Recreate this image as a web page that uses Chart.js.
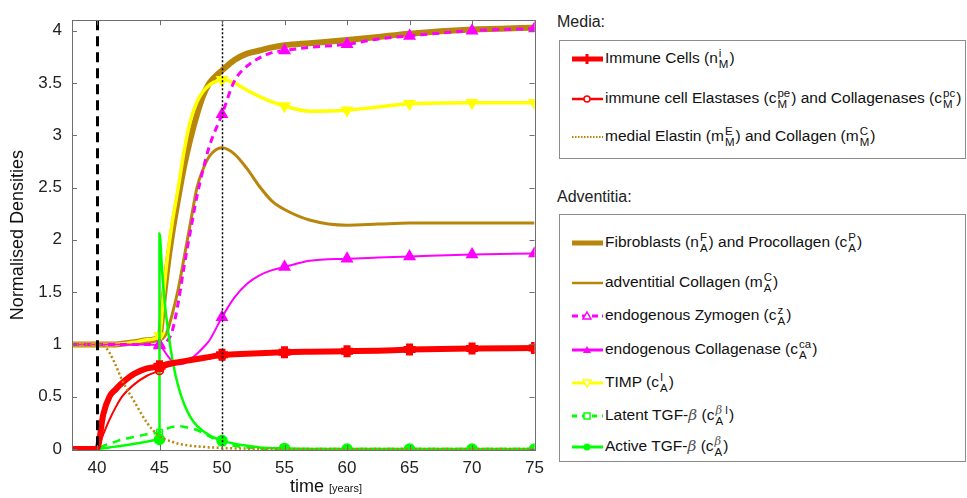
<!DOCTYPE html>
<html>
<head>
<meta charset="utf-8">
<script src="https://cdn.jsdelivr.net/npm/chart.js@4.4.1/dist/chart.umd.min.js"></script>
<style>
  body { margin: 0; background: #fff; font-family: "Liberation Sans", Arial, sans-serif; }
  #wrap { position: relative; width: 967px; height: 498px; overflow: hidden; background: #fff; }
  #chart { position: absolute; left: 0; top: 0; }
  .xtitle { position: absolute; left: 290px; top: 476px; font-size: 18px; color: #111; white-space: nowrap; }
  .xtitle small { font-size: 11px; margin-left: 5px; }
  .grp { position: absolute; left: 557px; font-size: 16px; color: #222; }
  .box { position: absolute; left: 559px; width: 407px; border: 1.5px solid #8c8c8c; box-sizing: border-box; background: #fff; }
  .row { position: absolute; left: 12px; height: 24px; display: flex; align-items: center; white-space: nowrap; font-size: 15.5px; color: #111; }
  .row svg { margin-right: 2px; flex: none; }
  .ss { display: inline-flex; flex-direction: column; font-size: 11.5px; line-height: 11px; vertical-align: 6px; margin: 0 1px; }
  .b { font-family: "DejaVu Serif", serif; font-style: italic; color: #555; }
</style>
</head>
<body>
<div id="wrap">
  <canvas id="chart" width="552" height="498"></canvas>
  <div class="xtitle">time<small>[years]</small></div>
  <div class="grp" style="top:13px">Media:</div>
  <div class="box" id="mediaBox" style="top:40px;height:119px"></div>
  <div class="grp" style="top:188px">Adventitia:</div>
  <div class="box" id="advBox" style="top:214px;height:248px"></div>
</div>
<script>
// time axis
const xTicks = [40, 45, 50, 55, 60, 65, 70, 75];
const yTicks = [0, 0.5, 1, 1.5, 2, 2.5, 3, 3.5, 4];
const markerYears = [45, 50, 55, 60, 65, 70, 75];
const eventYears = [40, 50];

const years = [38, 40, 40.5, 41, 41.5, 42, 43, 44, 45, 45.3, 45.6, 46, 46.5, 47, 47.5, 48, 48.5, 49, 50,
               51, 52, 53, 54, 55, 57, 60, 62.5, 65, 70, 75];

// media
const immuneCells = [0, 0, 0.33, 0.5, 0.57, 0.63, 0.72, 0.77, 0.79, 0.8, 0.81, 0.82, 0.83, 0.84, 0.85, 0.86, 0.87, 0.88, 0.9,
                     0.905, 0.91, 0.915, 0.92, 0.925, 0.93, 0.935, 0.94, 0.95, 0.96, 0.965];
const elastases = [0, 0, 0.14, 0.28, 0.4, 0.5, 0.62, 0.7, 0.75, 0.77, 0.785, 0.8, 0.815, 0.83, 0.84, 0.85, 0.86, 0.87, 0.89,
                   0.9, 0.905, 0.91, 0.915, 0.92, 0.925, 0.93, 0.94, 0.945, 0.955, 0.96];
const medialElastin = [1, 1, 0.99, 0.92, 0.8, 0.66, 0.45, 0.25, 0.12, 0.1, 0.085, 0.07, 0.05, 0.04, 0.03, 0.025, 0.02, 0.015, 0.01,
                       0.005, 0.003, 0, 0, 0, 0, 0, 0, 0, 0, 0];

// adventitia
const fibroblasts = [1, 1, 1, 1, 1, 1.005, 1.02, 1.04, 1.07, 1.4, 1.71, 2.05, 2.4, 2.72, 2.98, 3.2, 3.38, 3.5, 3.62,
                     3.72, 3.78, 3.81, 3.84, 3.86, 3.88, 3.91, 3.94, 3.97, 4.01, 4.03];
const advCollagen = [1, 1, 1, 1, 1, 1, 1.01, 1.02, 1.04, 1.06, 1.12, 1.28, 1.53, 1.85, 2.18, 2.5, 2.68, 2.8, 2.88,
                     2.82, 2.68, 2.51, 2.37, 2.29, 2.19, 2.14, 2.15, 2.16, 2.16, 2.16];
const zymogen = [1, 1, 1, 1, 1, 1, 1, 1, 1, 1, 1.03, 1.12, 1.4, 1.77, 2.1, 2.42, 2.68, 2.9, 3.2,
                 3.52, 3.66, 3.74, 3.79, 3.81, 3.84, 3.87, 3.92, 3.95, 4.0, 4.02];
const collagenase = [1, 1, 1, 1, 1, 1, 1, 1, 0.99, 0.95, 0.9, 0.84, 0.81, 0.82, 0.86, 0.91, 0.97, 1.04, 1.26,
                     1.45, 1.58, 1.66, 1.71, 1.74, 1.8, 1.82, 1.83, 1.84, 1.86, 1.87];
const timp = [1, 1, 1, 1, 1, 1.005, 1.02, 1.045, 1.08, 1.45, 1.8, 2.15, 2.5, 2.87, 3.15, 3.32, 3.42, 3.48, 3.53,
              3.5, 3.43, 3.37, 3.32, 3.28, 3.23, 3.24, 3.27, 3.3, 3.31, 3.31];
const latentTgf = [0, 0, 0.03, 0.05, 0.07, 0.09, 0.115, 0.14, 0.16, 0.18, 0.195, 0.21, 0.22, 0.21, 0.2, 0.18, 0.15, 0.12, 0.06,
                   0.03, 0.015, 0.005, 0, 0, 0, 0, 0, 0, 0, 0];

// active TGF-beta jumps at 45
const activeYears = [38, 40, 41, 42, 43, 44, 45, 45, 45.2, 45.4, 45.7, 46.1, 46.5, 47, 47.5, 48, 49, 50,
                     51, 52, 53, 55, 60, 65, 70, 75];
const activeTgf = [0, 0, 0.015, 0.03, 0.05, 0.07, 0.09, 2.06, 1.72, 1.42, 1.12, 0.81, 0.6, 0.42, 0.3, 0.22, 0.13, 0.08,
                   0.05, 0.03, 0.015, 0.005, 0, 0, 0, 0];

const RED = '#ff0000', BROWN = '#b8860b', MAG = '#ff00ff', YEL = '#ffff00', GRN = '#00ff00';
const FONT = '"Liberation Sans", Arial, sans-serif';

function markerRadius(xs, r) {
  return ctx => {
    const i = ctx.dataIndex;
    if (!markerYears.includes(xs[i])) return 0;
    if (i > 0 && xs[i - 1] === xs[i]) return 0;
    return r;
  };
}

function series(xs, ys, opts) {
  return Object.assign({
    data: ys.map((v, i) => ({ x: xs[i], y: v })),
    cubicInterpolationMode: 'monotone',
    pointRadius: markerRadius(xs, opts.r || 0),
    pointBorderColor: opts.borderColor,
    pointBackgroundColor: opts.borderColor,
    pointBorderWidth: 1.5,
    fill: false
  }, opts);
}

// first dataset is drawn on top
const datasets = [
  series(years, medialElastin, { label: 'medial Elastin', borderColor: BROWN, borderWidth: 2.5, borderDash: [2, 2.5] }),
  series(years, immuneCells, { label: 'Immune Cells', borderColor: RED, borderWidth: 6, r: 6, pointStyle: 'cross', pointBorderWidth: 7 }),
  series(years, elastases, { label: 'Elastases', borderColor: RED, borderWidth: 2, r: 4, pointStyle: 'circle', pointBackgroundColor: 'rgba(0,0,0,0)' }),
  series(activeYears, activeTgf, { label: 'Active TGF', borderColor: GRN, borderWidth: 2.5, r: 5, pointStyle: 'circle' }),
  series(years, latentTgf, { label: 'Latent TGF', borderColor: GRN, borderWidth: 2.5, borderDash: [8, 6], r: 4, pointStyle: 'rect', pointBackgroundColor: 'rgba(0,0,0,0)' }),
  series(years, collagenase, { label: 'Collagenase', borderColor: MAG, borderWidth: 2, r: 6, pointStyle: 'triangle' }),
  series(years, zymogen, { label: 'Zymogen', borderColor: MAG, borderWidth: 3, borderDash: [7, 5], r: 6, pointStyle: 'triangle' }),
  series(years, timp, { label: 'TIMP', borderColor: YEL, borderWidth: 3.5, r: 6, pointStyle: 'triangle', pointRotation: 180 }),
  series(years, fibroblasts, { label: 'Fibroblasts', borderColor: BROWN, borderWidth: 6 }),
  series(years, advCollagen, { label: 'adventitial Collagen', borderColor: BROWN, borderWidth: 3 })
];

const framePlugin = {
  id: 'frame',
  afterDatasetsDraw(chart) {
    const { ctx, chartArea: a, scales: { x } } = chart;
    ctx.save();
    ctx.strokeStyle = '#000';
    eventYears.forEach((yr, i) => {
      const px = Math.round(x.getPixelForValue(yr)) + 0.5;
      ctx.lineWidth = i === 0 ? 3 : 1.5;
      ctx.setLineDash(i === 0 ? [10, 6] : [2, 2]);
      ctx.beginPath();
      ctx.moveTo(px, a.top);
      ctx.lineTo(px, a.bottom);
      ctx.stroke();
    });
    ctx.restore();
  },
  afterDraw(chart) {
    const { ctx, chartArea: a, scales: { x, y } } = chart;
    ctx.save();
    ctx.strokeStyle = '#6e6e6e';
    ctx.lineWidth = 1;
    ctx.strokeRect(Math.round(a.left) + 0.5, Math.round(a.top) + 0.5, Math.round(a.right - a.left), Math.round(a.bottom - a.top));
    ctx.beginPath();
    xTicks.forEach(v => {
      const px = Math.round(x.getPixelForValue(v)) + 0.5;
      ctx.moveTo(px, a.top); ctx.lineTo(px, a.top + 5);
      ctx.moveTo(px, a.bottom); ctx.lineTo(px, a.bottom - 5);
    });
    yTicks.forEach(v => {
      const py = Math.round(y.getPixelForValue(v)) + 0.5;
      ctx.moveTo(a.left, py); ctx.lineTo(a.left + 5, py);
      ctx.moveTo(a.right, py); ctx.lineTo(a.right - 5, py);
    });
    ctx.stroke();
    ctx.restore();
  }
};

new Chart(document.getElementById('chart'), {
  type: 'line',
  data: { datasets },
  options: {
    responsive: false,
    animation: false,
    layout: { padding: { top: 11, right: 10, left: 0, bottom: 0 } },
    plugins: { legend: { display: false }, tooltip: { enabled: false } },
    scales: {
      x: {
        type: 'linear', min: 38, max: 75,
        grid: { display: false, drawTicks: false },
        border: { display: false },
        ticks: { padding: 8, color: '#222', maxRotation: 0, font: { size: 17, family: FONT }, callback: v => String(v) },
        afterBuildTicks: s => { s.ticks = xTicks.map(v => ({ value: v })); },
        afterFit: s => { s.height = 48; }
      },
      y: {
        min: -0.01, max: 4.1,
        grid: { display: false, drawTicks: false },
        border: { display: false },
        ticks: { padding: 10, color: '#222', font: { size: 17, family: FONT }, callback: v => String(v) },
        afterBuildTicks: s => { s.ticks = yTicks.map(v => ({ value: v })); },
        afterFit: s => { s.width = 72; },
        title: { display: true, text: 'Normalised Densities', color: '#111', font: { size: 18, family: FONT }, padding: { top: 7, bottom: 0 } }
      }
    }
  },
  plugins: [framePlugin]
});

// legend
function ss(sup, sub) {
  return `<span class="ss"><span>${sup}</span><span>${sub}</span></span>`;
}
const B = '<span class="b">β</span>';

function sample(s) {
  const c = s.color, cx = 15, cy = 8;
  const dash = s.dash ? `stroke-dasharray="${s.dash}"` : '';
  let m = '';
  if (s.marker === 'cross') m = `<path d="M${cx - 5},${cy}H${cx + 5}M${cx},${cy - 5}V${cy + 5}" stroke="${c}" stroke-width="3"/>`;
  if (s.marker === 'circleO') m = `<circle cx="${cx}" cy="${cy}" r="3" fill="#fff" stroke="${c}" stroke-width="1.5"/>`;
  if (s.marker === 'circle') m = `<circle cx="${cx}" cy="${cy}" r="3.5" fill="${c}"/>`;
  if (s.marker === 'tri') m = `<path d="M${cx},${cy - 4}L${cx + 4},${cy + 3}L${cx - 4},${cy + 3}Z" fill="${c}"/>`;
  if (s.marker === 'triO') m = `<path d="M${cx},${cy - 4}L${cx + 4},${cy + 3}L${cx - 4},${cy + 3}Z" fill="#fff" stroke="${c}" stroke-width="1.5"/>`;
  if (s.marker === 'triDown') m = `<path d="M${cx},${cy + 4}L${cx + 4},${cy - 3}L${cx - 4},${cy - 3}Z" fill="#fff" stroke="${c}" stroke-width="1.5"/>`;
  if (s.marker === 'squareO') m = `<rect x="${cx - 3}" y="${cy - 3}" width="6" height="6" fill="#fff" stroke="${c}" stroke-width="1.5"/>`;
  return `<svg width="31" height="16"><line x1="0" y1="${cy}" x2="31" y2="${cy}" stroke="${c}" stroke-width="${s.width}" ${dash}/>${m}</svg>`;
}

const mediaItems = [
  { top: 6, color: RED, width: 5, marker: 'cross', html: `Immune Cells (n${ss('i', 'M')})` },
  { top: 46, color: RED, width: 2.5, marker: 'circleO', html: `immune cell Elastases (c${ss('pe', 'M')}) and Collagenases (c${ss('pc', 'M')})` },
  { top: 84, color: BROWN, width: 2, dash: '1.5,1.5', html: `medial Elastin (m${ss('E', 'M')}) and Collagen (m${ss('C', 'M')})` }
];
const advItems = [
  { top: 16, color: BROWN, width: 5, html: `Fibroblasts (n${ss('F', 'A')}) and Procollagen (c${ss('P', 'A')})` },
  { top: 56, color: BROWN, width: 2.5, html: `adventitial Collagen (m${ss('C', 'A')})` },
  { top: 89, color: MAG, width: 3, dash: '6,4', marker: 'triO', html: `endogenous Zymogen (c${ss('z', 'A')})` },
  { top: 123, color: MAG, width: 3, marker: 'tri', html: `endogenous Collagenase (c${ss('ca', 'A')})` },
  { top: 156, color: YEL, width: 3, marker: 'triDown', html: `TIMP (c${ss('I', 'A')})` },
  { top: 189, color: GRN, width: 3, dash: '5,5', marker: 'squareO', html: `Latent TGF-${B} (c${ss(B + ' l', 'A')})` },
  { top: 220, color: GRN, width: 3, marker: 'circle', html: `Active TGF-${B} (c${ss(B, 'A')})` }
];

function fillBox(id, items) {
  document.getElementById(id).innerHTML = items.map(it =>
    `<div class="row" style="top:${it.top}px">${sample(it)}<span>${it.html}</span></div>`).join('');
}
fillBox('mediaBox', mediaItems);
fillBox('advBox', advItems);
</script>
</body>
</html>
